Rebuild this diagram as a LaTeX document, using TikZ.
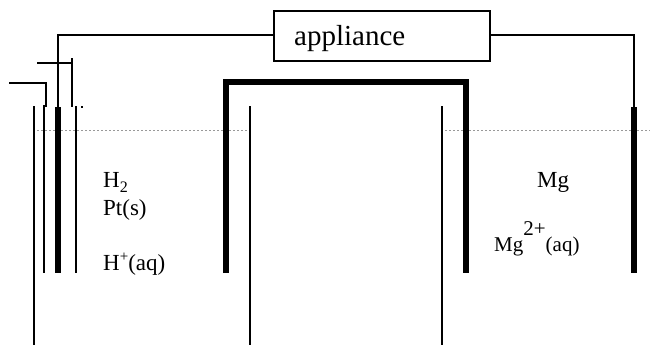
\documentclass[tikz,border=0pt]{standalone}
\usepackage{fontspec}
\setmainfont{Liberation Serif}
\tikzset{
  thin wire/.style={line width=2pt,black,line cap=butt},
  glass/.style={line width=2pt,black},
  electrode/.style={line width=6pt,black},
  level/.style={gray!80,line width=1.6pt,dash pattern=on 2pt off 2pt},
  lab/.style={inner sep=0pt,anchor=base west,font=\fontsize{23}{23}\selectfont},
  smalllab/.style={inner sep=0pt,anchor=base west,font=\fontsize{21}{21}\selectfont},
  box/.style={draw,line width=2pt,minimum width=216pt,minimum height=50pt,inner sep=0pt}
}
\begin{document}
\begin{tikzpicture}[x=1pt,y=-1pt]
\useasboundingbox (0,0) rectangle (650,345);
% coordinates
\node[box] (app) at (381.5,36.5) {};
\node[inner sep=0pt,anchor=base west,font=\fontsize{29}{29}\selectfont] (applabel) at (294,46) {appliance};
\coordinate (lcorner) at (58,35);
\coordinate (rcorner) at (634,35);
\coordinate (ltop) at (58,107);
\coordinate (lbot) at (58,273);
\coordinate (rtop) at (634,107);
\coordinate (rbot) at (634,273);
\coordinate (bl) at (226,273);
\coordinate (bltop) at (226,82);
\coordinate (brtop) at (466,82);
\coordinate (br) at (466,273);
% level
\draw[level] (33,130.5) -- (250,130.5);
\draw[level] (441,130.5) -- (650,130.5);
% wires
\draw[thin wire] (app.west |- lcorner) -- (lcorner) -- (ltop);
\draw[thin wire] (app.east |- rcorner) -- (rcorner) -- (rtop);
% electrodes
\draw[electrode] (ltop) -- (lbot);
\draw[electrode] (rtop) -- (rbot);
\draw[electrode,line join=miter] (bl) -- (bltop) -- (brtop) -- (br);
% hydrogen tube
\coordinate (g1a) at (37,63); \coordinate (g1b) at (72,63); \coordinate (g1c) at (72,107);
\coordinate (g2a) at (9,83); \coordinate (g2b) at (46,83); \coordinate (g2c) at (46,107);
\draw[thin wire] (g1a) -- (g1b) -- (g1c);
\draw[thin wire] (g1b) -- ++(0,-5);
\draw[thin wire] (g2a) -- (g2b) -- (g2c);
\coordinate (t1a) at (43.5,105); \coordinate (t1b) at (43.5,273);
\coordinate (t2a) at (75.5,106); \coordinate (t2b) at (75.5,273);
\draw[glass] (t1a) -- (t1b);
\draw[glass] (t2a) -- (t2b);
\fill (81,105.5) rectangle (83,107.5);
% beakers
\coordinate (b1a) at (33.5,106); \coordinate (b1b) at (33.5,345);
\coordinate (b2a) at (250,106); \coordinate (b2b) at (250,345);
\coordinate (b3a) at (441.5,106); \coordinate (b3b) at (441.5,345);
\draw[glass] (b1a) -- (b1b);
\draw[glass] (b2a) -- (b2b);
\draw[glass] (b3a) -- (b3b);
% labels
\node[lab] (h2) at (103,187) {H\raisebox{-5pt}{\fontsize{16}{16}\selectfont 2}};
\node[lab] (pt) at (103,215) {Pt(s)};
\node[lab] (hp) at (103,270) {H\raisebox{9pt}{\fontsize{15}{15}\selectfont +}(aq)};
\node[lab] (mg) at (537,187) {Mg};
\node[smalllab] (mgion) at (494,251) {Mg\raisebox{16pt}{2+}(aq)};
\end{tikzpicture}
\end{document}
